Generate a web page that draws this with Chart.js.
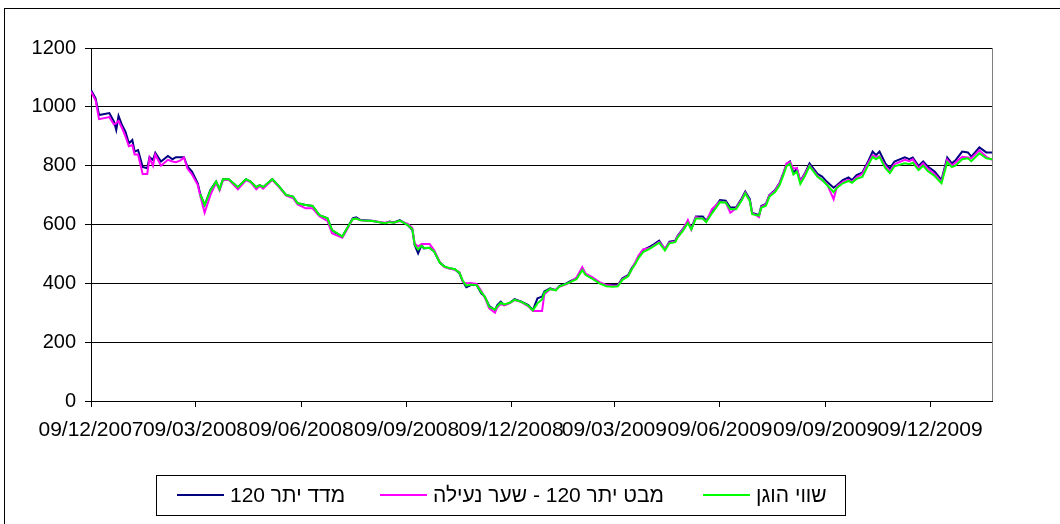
<!DOCTYPE html>
<html>
<head>
<meta charset="utf-8">
<script src="https://cdn.jsdelivr.net/npm/chart.js@4.4.1/dist/chart.umd.min.js"></script>
<style>
html,body{margin:0;padding:0;background:#fff;}
canvas{display:block;}
</style>
</head>
<body>
<canvas id="c" width="1060" height="524"></canvas>
<script>
const seriesNames = ['מדד יתר 120', 'מבט יתר 120 - שער נעילה', 'שווי הוגן'];
const seriesColors = ['#000080', '#FF00FF', '#00FF00'];
const tickLabels = ['09/12/2007','09/03/2008','09/06/2008','09/09/2008','09/12/2008','09/03/2009','09/06/2009','09/09/2009','09/12/2009'];
const axisStart = '2007-12-09';
const axisEnd = '2010-02-01';

const dates = [
'2007-12-09','2007-12-13','2007-12-16','2007-12-25','2007-12-29','2007-12-31','2008-01-02','2008-01-05','2008-01-08','2008-01-11',
'2008-01-14','2008-01-16','2008-01-19','2008-01-23','2008-01-27','2008-01-29','2008-02-01','2008-02-03','2008-02-08','2008-02-14',
'2008-02-18','2008-02-21','2008-02-25','2008-02-28','2008-03-02','2008-03-06','2008-03-11','2008-03-13','2008-03-17','2008-03-22',
'2008-03-27','2008-03-30','2008-04-02','2008-04-07','2008-04-15','2008-04-22','2008-04-26','2008-05-01','2008-05-04','2008-05-07',
'2008-05-15','2008-05-21','2008-05-27','2008-06-02','2008-06-06','2008-06-13','2008-06-19','2008-06-25','2008-07-02','2008-07-06',
'2008-07-09','2008-07-15','2008-07-20','2008-07-24','2008-07-27','2008-07-31','2008-08-10','2008-08-21','2008-08-25','2008-08-29',
'2008-09-03','2008-09-10','2008-09-14','2008-09-16','2008-09-19','2008-09-22','2008-09-24','2008-09-29','2008-10-03','2008-10-08',
'2008-10-12','2008-10-16','2008-10-21','2008-10-25','2008-10-28','2008-10-31','2008-11-04','2008-11-09','2008-11-13','2008-11-16',
'2008-11-20','2008-11-25','2008-11-27','2008-11-30','2008-12-03','2008-12-08','2008-12-12','2008-12-18','2008-12-24','2008-12-28',
'2009-01-01','2009-01-05','2009-01-07','2009-01-12','2009-01-17','2009-01-20','2009-01-26','2009-01-30','2009-02-04','2009-02-09',
'2009-02-12','2009-02-18','2009-02-24','2009-03-02','2009-03-08','2009-03-12','2009-03-16','2009-03-21','2009-03-24','2009-03-27',
'2009-03-30','2009-04-03','2009-04-09','2009-04-13','2009-04-17','2009-04-22','2009-04-26','2009-05-01','2009-05-03','2009-05-08',
'2009-05-12','2009-05-15','2009-05-19','2009-05-25','2009-05-28','2009-06-02','2009-06-09','2009-06-14','2009-06-18','2009-06-23',
'2009-06-28','2009-07-01','2009-07-05','2009-07-07','2009-07-13','2009-07-15','2009-07-19','2009-07-22','2009-07-27','2009-07-31',
'2009-08-03','2009-08-06','2009-08-09','2009-08-12','2009-08-15','2009-08-18','2009-08-22','2009-08-26','2009-09-02','2009-09-06',
'2009-09-10','2009-09-16','2009-09-19','2009-09-24','2009-09-29','2009-10-02','2009-10-06','2009-10-11','2009-10-16','2009-10-20',
'2009-10-23','2009-10-26','2009-10-31','2009-11-04','2009-11-08','2009-11-17','2009-11-21','2009-11-24','2009-11-29','2009-12-03',
'2009-12-07','2009-12-13','2009-12-19','2009-12-24','2009-12-28','2009-12-31','2010-01-06','2010-01-11','2010-01-14','2010-01-21',
'2010-01-27','2010-02-01'
];

const indexValues = [
1057,1029,972,979,950,921,969,938,916,876,
887,848,853,796,791,829,819,844,814,833,
822,829,829,829,797,780,740,706,666,717,
746,720,754,754,727,754,746,727,734,727,
754,729,700,695,672,666,663,632,621,581,
572,559,593,621,624,615,613,604,610,607,
615,598,581,530,502,530,519,521,508,470,
457,451,448,434,406,387,394,394,366,355,
323,309,326,338,326,334,346,338,326,309,
349,355,372,383,377,391,400,408,417,448,
430,417,402,394,394,394,417,428,451,468,
491,513,525,534,545,516,542,545,561,587,
610,587,627,627,613,644,683,681,658,658,
689,712,686,640,632,663,670,700,717,742,
772,805,814,775,790,748,774,808,772,763,
746,725,734,751,760,751,768,776,814,848,
836,848,808,791,814,828,822,828,799,814,
797,780,751,828,808,817,848,845,831,862,
845,845
];

const etfClose = [
1052,1022,958,965,940,945,952,928,900,866,
870,838,838,772,772,826,800,838,800,820,
814,812,818,828,790,770,735,700,640,700,
742,716,750,752,720,750,744,720,731,722,
752,726,698,690,668,655,655,628,612,570,
565,555,590,618,620,614,612,606,609,606,
612,602,588,535,525,534,534,534,512,472,
455,450,446,438,404,400,401,398,375,352,
315,300,318,330,325,333,343,336,322,306,
306,306,363,380,378,388,397,405,420,455,
433,420,404,394,392,393,414,425,447,470,
494,515,520,530,540,518,538,542,558,585,
615,583,625,620,610,652,678,675,640,655,
685,708,680,640,625,660,668,698,715,740,
770,808,812,790,792,745,772,800,765,750,
740,686,730,745,752,745,760,772,808,835,
830,832,800,780,805,820,815,822,792,808,
790,772,745,820,800,810,830,828,825,852,
830,820
];

const fairValue = [
null,null,null,null,null,null,null,null,null,null,
null,null,null,null,null,null,null,null,null,null,
null,null,null,null,null,null,null,703,666,715,
746,720,754,754,727,754,746,727,734,727,
754,729,700,695,672,666,663,632,621,581,
574,559,593,618,620,614,612,604,608,606,
613,598,584,532,515,528,520,521,508,470,
457,452,448,436,408,392,396,394,370,355,
320,310,322,334,328,334,344,337,324,308,
332,345,368,381,376,389,398,405,414,445,
428,415,400,390,388,390,412,424,447,464,
486,506,518,528,538,512,536,540,555,580,
605,583,620,620,608,638,676,675,652,652,
682,706,680,635,630,657,664,694,710,734,
765,798,806,770,780,738,765,798,762,752,
735,710,725,740,748,742,755,762,800,830,
822,830,792,775,798,808,805,810,785,800,
782,765,740,812,795,800,822,825,815,842,
825,822
];

const DAY = 86400000;
function startParts(){const p=axisStart.split('-').map(Number);return [p[0],p[1]-1,p[2]];}
function isoDay(s){const p=s.split('-').map(Number);return (Date.UTC(p[0],p[1]-1,p[2])-Date.UTC(...startParts()))/DAY;}
function dmyDay(s){const p=s.split('/').map(Number);return (Date.UTC(p[2],p[1]-1,p[0])-Date.UTC(...startParts()))/DAY;}
const xDays = dates.map(isoDay);
const tickDays = tickLabels.map(dmyDay);
const toPts = vals => vals.map((v,i)=>({x:xDays[i], y:v}));

const FONT = "'Liberation Sans', Arial, sans-serif";

const framePlugin = {
  id:'frame',
  beforeDraw(chart){
    const ctx = chart.ctx;
    ctx.save();
    ctx.fillStyle = '#fff';
    ctx.fillRect(0,0,chart.width,chart.height);
    ctx.restore();
  },
  afterDraw(chart){
    const ctx = chart.ctx, a = chart.chartArea;
    ctx.save();
    // outer chart frame (only top/left visible)
    ctx.strokeStyle = '#000'; ctx.lineWidth = 1;
    ctx.strokeRect(4.5, 8.5, 1200, 700);
    // plot area right border
    ctx.strokeStyle = '#808080';
    ctx.beginPath(); ctx.moveTo(Math.round(a.right)+0.5, a.top); ctx.lineTo(Math.round(a.right)+0.5, a.bottom); ctx.stroke();
    // legend
    ctx.font = '21px ' + FONT;
    ctx.textBaseline = 'middle';
    ctx.textAlign = 'left';
    const cy = 495;
    const itemStarts = [177, 380, 703];
    const lineLen = 47, gap = 6;
    chart.data.datasets.forEach((ds,i)=>{
      const x = itemStarts[i];
      ctx.strokeStyle = ds.borderColor; ctx.lineWidth = 2;
      ctx.beginPath(); ctx.moveTo(x, cy); ctx.lineTo(x+lineLen, cy); ctx.stroke();
      ctx.fillStyle = '#000';
      ctx.fillText(ds.label, x+lineLen+gap, cy+1);
    });
    ctx.strokeStyle = '#000'; ctx.lineWidth = 1;
    ctx.strokeRect(156.5, 475.5, 689, 40);
    ctx.restore();
  }
};

new Chart(document.getElementById('c'), {
  type:'line',
  data:{
    datasets:[
      {label:seriesNames[0], data:toPts(indexValues), borderColor:seriesColors[0], borderWidth:2, pointRadius:0, tension:0, order:3},
      {label:seriesNames[1], data:toPts(etfClose), borderColor:seriesColors[1], borderWidth:2, pointRadius:0, tension:0, order:2},
      {label:seriesNames[2], data:toPts(fairValue), borderColor:seriesColors[2], borderWidth:2, pointRadius:0, tension:0, order:1}
    ]
  },
  options:{
    responsive:false,
    animation:false,
    events:[],
    layout:{padding:{left:0,right:68,top:48,bottom:63}},
    plugins:{legend:{display:false}, tooltip:{enabled:false}, title:{display:false}},
    scales:{
      x:{
        type:'linear',
        min:0,
        max:isoDay(axisEnd),
        afterBuildTicks:(s)=>{ s.ticks = tickDays.map(v=>({value:v})); },
        afterFit:(s)=>{ s.height = 60; },
        ticks:{autoSkip:false, maxRotation:0, minRotation:0, padding:11, color:'#000',
          font:{family:FONT, size:21},
          callback:(v,i)=>tickLabels[i]},
        grid:{drawOnChartArea:false, drawTicks:true, tickLength:6, color:'#000'},
        border:{color:'#000', width:1}
      },
      y:{
        min:0, max:1200,
        afterFit:(s)=>{ s.width = 91; },
        ticks:{stepSize:200, padding:9, color:'#000', font:{family:FONT, size:20},
          callback:(v)=>String(v)},
        grid:{color:'#000', tickLength:6, drawTicks:true},
        border:{color:'#000', width:1}
      }
    }
  },
  plugins:[framePlugin]
});
</script>
</body>
</html>
